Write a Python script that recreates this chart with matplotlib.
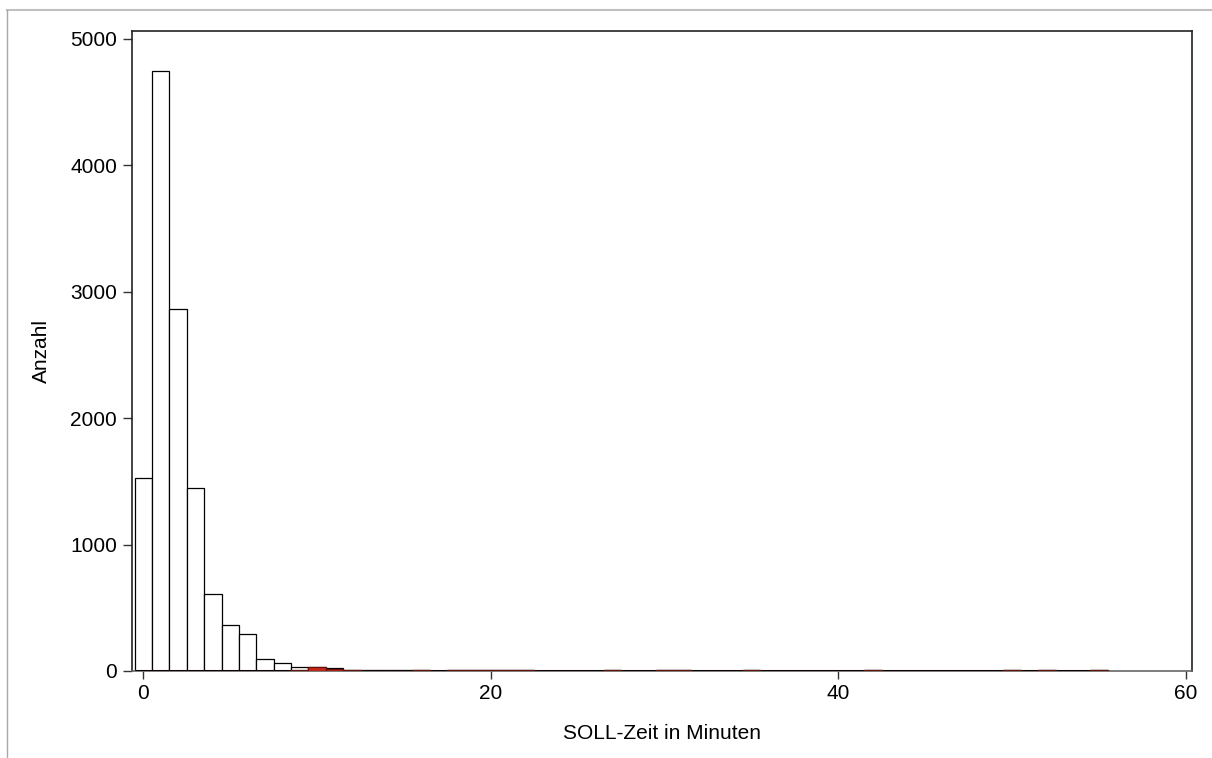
import matplotlib
matplotlib.use('Agg')
import matplotlib.pyplot as plt
import numpy as np
from matplotlib.lines import Line2D

plt.rcParams['font.family'] = ['Liberation Sans', 'DejaVu Sans']

# bin centres (minutes) and counts
bins = np.arange(56)
total_counts = [1525, 4740, 2860, 1445, 610, 365, 290, 98, 65, 29,
                35, 20, 10, 6, 6, 6, 8, 1, 8, 8,
                8, 8, 8, 0, 0, 0, 0, 8, 0, 0,
                8, 10, 0, 0, 0, 8, 0, 0, 0, 0,
                0, 0, 8, 0, 0, 0, 0, 0, 0, 0,
                8, 0, 8, 0, 0, 8]
red_counts = [0, 0, 0, 0, 0, 0, 0, 0, 0, 5,
              33, 18, 8, 0, 0, 0, 8, 0, 8, 6,
              8, 8, 8, 0, 0, 0, 0, 8, 0, 0,
              8, 5, 0, 0, 0, 8, 0, 0, 0, 0,
              0, 0, 8, 0, 0, 0, 0, 0, 0, 0,
              8, 0, 8, 0, 0, 8]

xticks = [0, 20, 40, 60]
yticks = [0, 1000, 2000, 3000, 4000, 5000]

fig = plt.figure(figsize=(12.12, 7.58), dpi=100)
ax = fig.add_axes([0.1087, 0.1148, 0.8748, 0.8443])

ax.bar(bins, total_counts, width=1.0, color='white', edgecolor='black', linewidth=0.9)
# baseline of the histogram bins
ax.hlines(0, bins[0] - 0.5, bins[-1] + 0.5, color='black', linewidth=2.2, zorder=3)
ax.bar(bins, red_counts, width=1.0, color='#c8281c', edgecolor='#6a120a',
       linewidth=0.9, zorder=4)

ax.set_xlim(-0.667, 60.35)
ax.set_ylim(0, 5060)
ax.set_xticks(xticks)
ax.set_yticks(yticks)

for side in ['left', 'top', 'right']:
    ax.spines[side].set_color('#222222')
    ax.spines[side].set_linewidth(1.2)
ax.spines['bottom'].set_color('#666666')
ax.spines['bottom'].set_linewidth(1.2)

ax.tick_params(axis='both', labelsize=15, color='#333333', width=1.0, pad=4)
ax.tick_params(axis='y', length=6.5)
ax.tick_params(axis='x', length=5.5)

ax.set_xlabel('SOLL-Zeit in Minuten', fontsize=15, labelpad=15)
ax.set_ylabel('Anzahl', fontsize=15, labelpad=14)

# page border lines
fig.add_artist(Line2D([0.0058, 1.0], [1 - 9.5 / 758, 1 - 9.5 / 758],
                      transform=fig.transFigure, color='#c0c0c0', linewidth=1.5))
fig.add_artist(Line2D([7 / 1212, 7 / 1212], [0.0, 1 - 9.5 / 758],
                      transform=fig.transFigure, color='#a8a8a8', linewidth=1.0))

fig.savefig('out.png', dpi=100)
